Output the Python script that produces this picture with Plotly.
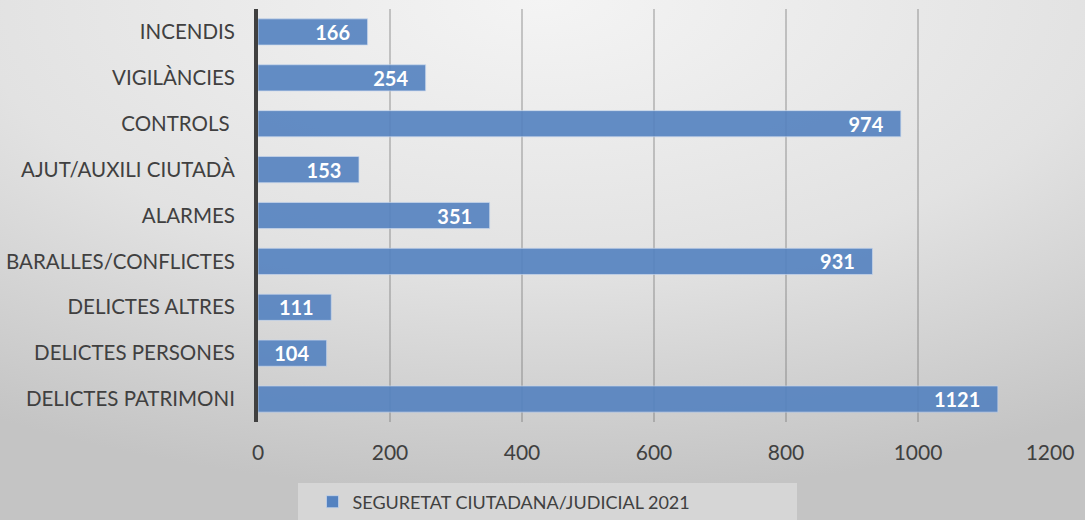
import plotly.graph_objects as go
import base64

categories = ["INCENDIS", "VIGILÀNCIES", "CONTROLS ", "AJUT/AUXILI CIUTADÀ", "ALARMES",
              "BARALLES/CONFLICTES", "DELICTES ALTRES", "DELICTES PERSONES", "DELICTES PATRIMONI"]
values = [166, 254, 974, 153, 351, 931, 111, 104, 1121]
series_name = "SEGURETAT CIUTADANA/JUDICIAL 2021"
x_ticks = [0, 200, 400, 600, 800, 1000, 1200]

W, H = 1085, 520
L, R, T, B = 258, 35, 9, 98
pw, ph = W - L - R, H - T - B

svg = f'''<svg xmlns="http://www.w3.org/2000/svg" width="{W}" height="{H}" viewBox="0 0 {W} {H}" preserveAspectRatio="none">
<defs><radialGradient id="g" cx="50%" cy="0%" r="95%" fx="50%" fy="0%" gradientUnits="objectBoundingBox">
<stop offset="0" stop-color="#f4f4f4"/><stop offset="0.55" stop-color="#e2e2e2"/><stop offset="1" stop-color="#c4c4c4"/></radialGradient></defs>
<rect width="{W}" height="{H}" fill="url(#g)"/></svg>'''
src = "data:image/svg+xml;base64," + base64.b64encode(svg.encode()).decode()

font = "Lato, 'Open Sans', sans-serif"
pad = "\u00a0" * 3

fig = go.Figure()
fig.add_trace(go.Bar(
    y=categories, x=values, orientation="h", name=series_name,
    marker=dict(color="rgb(84,130,192)", opacity=0.9,
                line=dict(color="rgba(200,215,238,0.7)", width=1)),
    text=[f"{v}{pad}" for v in values], textposition="inside", insidetextanchor="end",
    constraintext="none",
    textfont=dict(family=font, size=20, color="white", weight="bold"),
    cliponaxis=False, showlegend=True,
))

fig.add_layout_image(dict(source=src, xref="paper", yref="paper",
                          x=-L / pw, y=1 + T / ph, sizex=W / pw, sizey=H / ph,
                          xanchor="left", yanchor="top", sizing="stretch", layer="below"))

fig.add_shape(type="rect", xref="paper", yref="paper",
              x0=(298 - L) / pw, x1=(797 - L) / pw, y0=-(530 - T - ph) / ph, y1=-(483 - T - ph) / ph,
              line=dict(width=0), fillcolor="rgba(255,255,255,0.3)", layer="below")

fig.update_layout(
    width=W, height=H,
    margin=dict(l=L, r=R, t=T, b=B, pad=0, autoexpand=False),
    paper_bgcolor="#e0e0e0", plot_bgcolor="rgba(0,0,0,0)",
    bargap=0.43,
    font=dict(family=font, color="#404040", size=20),
    legend=dict(orientation="h", x=(504 - L) / pw, xanchor="center",
                y=-(502 - T - ph) / ph, yanchor="middle",
                bgcolor="rgba(0,0,0,0)", font=dict(size=18, color="#404040"),
                itemwidth=30),
    xaxis=dict(range=[0, 1200], tickvals=x_ticks, ticktext=[str(t) for t in x_ticks],
               showgrid=True, gridcolor="rgba(110,110,110,0.35)", gridwidth=2,
               zeroline=False, showline=False, ticks="", ticklabelstandoff=16,
               automargin=False, tickfont=dict(size=21, color="#404040")),
    yaxis=dict(autorange="reversed", showline=True, linecolor="#404040", linewidth=4,
               showgrid=False, ticks="", ticklabelstandoff=15, automargin=False,
               tickfont=dict(size=20.5, color="#404040")),
)

fig.write_html("out.html", config={"displayModeBar": False},
               post_script="document.body.style.margin='0';document.body.style.overflow='hidden';document.body.style.background='#d8d8d8';")
